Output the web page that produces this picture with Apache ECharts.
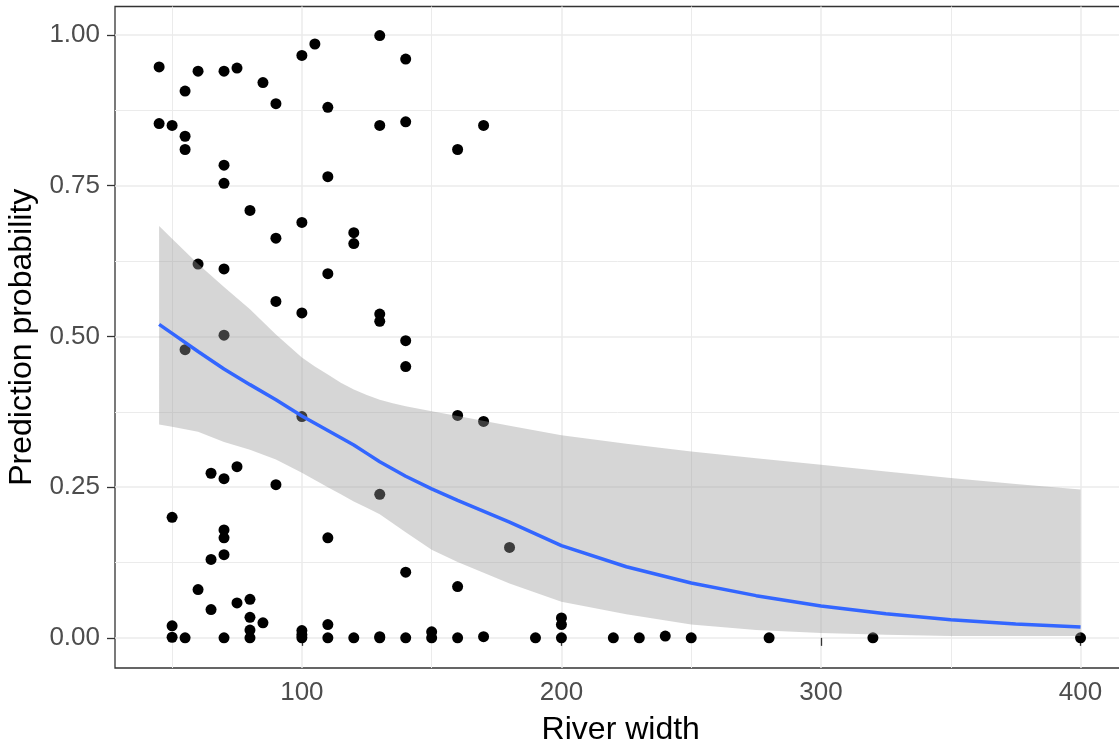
<!DOCTYPE html>
<html>
<head>
<meta charset="utf-8">
<title>River width</title>
<script src="https://cdn.jsdelivr.net/npm/echarts@6/dist/echarts.min.js"></script>
<style>
  html, body { margin: 0; padding: 0; background: #fff; overflow: hidden; }
  #chart { width: 1119px; height: 749px; }
</style>
</head>
<body>
<div id="chart"></div>
<script>
  // observed rivers (width, predicted probability)
  const widthObs = [
    45, 45,
    50, 50, 50, 50,
    55, 55, 55, 55, 55,
    60, 60, 60,
    65, 65, 65,
    70, 70, 70, 70, 70, 70, 70, 70, 70, 70,
    75, 75, 75,
    80, 80, 80, 80, 80,
    85, 85,
    90, 90, 90, 90,
    100, 100, 100, 100, 100, 100, 100,
    105,
    110, 110, 110, 110, 110, 110,
    120, 120, 120,
    130, 130, 130, 130, 130, 130, 130,
    140, 140, 140, 140, 140, 140,
    150, 150,
    160, 160, 160, 160,
    170, 170, 170,
    180,
    190,
    200, 200, 200,
    220, 230, 240, 250, 280, 320, 400
  ];
  const probObs = [
    0.947, 0.853,
    0.850, 0.200, 0.020, 0.001,
    0.907, 0.832, 0.810, 0.478, 0,
    0.940, 0.620, 0.080,
    0.273, 0.130, 0.047,
    0.940, 0.784, 0.754, 0.612, 0.502, 0.264, 0.179, 0.166, 0.138, 0,
    0.945, 0.284, 0.058,
    0.709, 0.064, 0.034, 0.013, 0,
    0.921, 0.025,
    0.886, 0.663, 0.558, 0.254,
    0.966, 0.689, 0.539, 0.367, 0.012, 0.005, 0,
    0.985,
    0.880, 0.765, 0.604, 0.166, 0.022, 0,
    0.672, 0.654, 0,
    0.999, 0.850, 0.537, 0.525, 0.238, 0.002, 0,
    0.960, 0.856, 0.493, 0.450, 0.109, 0,
    0.010, 0,
    0.810, 0.369, 0.085, 0,
    0.850, 0.359, 0.002,
    0.150,
    0,
    0.033, 0.022, 0,
    0, 0, 0.003, 0, 0, 0, 0
  ];

  // logistic fit and its confidence band
  const fitWidth = [45, 50, 60, 70, 80, 90, 100, 105, 110, 115, 120, 125, 130, 135, 140, 150, 160, 180, 200, 225, 250, 275, 300, 325, 350, 375, 400];
  const fitProb  = [0.520, 0.505, 0.475, 0.446, 0.420, 0.395, 0.368, 0.356, 0.344, 0.332, 0.320, 0.306, 0.292, 0.280, 0.268, 0.247, 0.228, 0.192, 0.153, 0.118, 0.091, 0.070, 0.053, 0.040, 0.030, 0.023, 0.018];
  const fitLower = [0.354, 0.350, 0.342, 0.325, 0.312, 0.296, 0.274, 0.262, 0.250, 0.238, 0.226, 0.216, 0.205, 0.190, 0.175, 0.146, 0.126, 0.090, 0.060, 0.039, 0.022, 0.013, 0.008, 0.005, 0.003, 0.003, 0.003];
  const fitUpper = [0.683, 0.662, 0.620, 0.582, 0.545, 0.503, 0.465, 0.450, 0.437, 0.423, 0.412, 0.403, 0.395, 0.389, 0.384, 0.376, 0.368, 0.352, 0.336, 0.322, 0.309, 0.298, 0.287, 0.276, 0.265, 0.255, 0.246];

  const xTicks = [100, 200, 300, 400];
  const xMinor = [50, 150, 250, 350];
  const yTicks = [0, 0.25, 0.5, 0.75, 1];
  const yMinor = [0.125, 0.375, 0.625, 0.875];

  const font = '"Liberation Sans", Arial, sans-serif';

  const chart = echarts.init(document.getElementById('chart'));

  const option = {
    animation: false,
    backgroundColor: '#ffffff',
    textStyle: { fontFamily: font },
    grid: {
      left: 115,
      top: 6.5,
      width: 1011.5,
      height: 661.5,
      outerBoundsMode: 'none',
      containLabel: false,
      show: true,
      borderColor: '#333333',
      borderWidth: 1.3,
      backgroundColor: 'transparent'
    },
    xAxis: [{
      type: 'value',
      min: 28,
      max: 417.7,
      name: 'River width',
      nameLocation: 'middle',
      nameGap: 46,
      nameTextStyle: { fontSize: 32, color: '#000', fontFamily: font },
      axisLine: { show: false },
      axisTick: { show: true, length: 8, customValues: xTicks, lineStyle: { color: '#333333', width: 1.3 } },
      axisLabel: { customValues: xTicks, fontSize: 26, color: '#4d4d4d', margin: 12, fontFamily: font },
      splitLine: { show: true, lineStyle: { color: '#ebebeb', width: 1.5 } }
    }, {
      type: 'value',
      min: 28,
      max: 417.7,
      position: 'bottom',
      axisLine: { show: false },
      axisTick: { show: false, customValues: xMinor },
      axisLabel: { show: false },
      splitLine: { show: true, lineStyle: { color: '#ebebeb', width: 1 } }
    }],
    yAxis: [{
      type: 'value',
      min: -0.05,
      max: 1.0472,
      name: 'Prediction probability',
      nameLocation: 'middle',
      nameGap: 70,
      nameTextStyle: { fontSize: 32, color: '#000', fontFamily: font },
      axisLine: { show: false },
      axisTick: { show: true, length: 8, customValues: yTicks, lineStyle: { color: '#333333', width: 1.3 } },
      axisLabel: {
        customValues: yTicks,
        fontSize: 26,
        color: '#4d4d4d',
        margin: 15,
        fontFamily: font,
        formatter: v => v.toFixed(2)
      },
      splitLine: { show: true, lineStyle: { color: '#ebebeb', width: 1.5 } }
    }, {
      type: 'value',
      min: -0.05,
      max: 1.0472,
      position: 'left',
      axisLine: { show: false },
      axisTick: { show: false, customValues: yMinor },
      axisLabel: { show: false },
      splitLine: { show: true, lineStyle: { color: '#ebebeb', width: 1 } }
    }],
    series: [
      {
        name: 'observed',
        type: 'scatter',
        z: 2,
        symbolSize: 11,
        itemStyle: { color: '#000000', opacity: 1 },
        data: widthObs.map((w, i) => [w, probObs[i]])
      },
      {
        name: 'band',
        type: 'custom',
        z: 3,
        silent: true,
        data: fitWidth.map((w, i) => [w, fitLower[i], fitUpper[i]]),
        encode: { x: 0, y: [1, 2] },
        renderItem: function (params, api) {
          if (params.dataIndex !== 0) return;
          const pts = [];
          for (let i = 0; i < fitWidth.length; i++) pts.push(api.coord([fitWidth[i], fitUpper[i]]));
          for (let i = fitWidth.length - 1; i >= 0; i--) pts.push(api.coord([fitWidth[i], fitLower[i]]));
          return {
            type: 'polygon',
            shape: { points: pts },
            style: { fill: 'rgba(153,153,153,0.4)' }
          };
        }
      },
      {
        name: 'fit',
        type: 'line',
        z: 4,
        symbol: 'none',
        smooth: false,
        lineStyle: { color: '#3366ff', width: 3.5 },
        data: fitWidth.map((w, i) => [w, fitProb[i]])
      }
    ]
  };

  chart.setOption(option);
</script>
</body>
</html>
